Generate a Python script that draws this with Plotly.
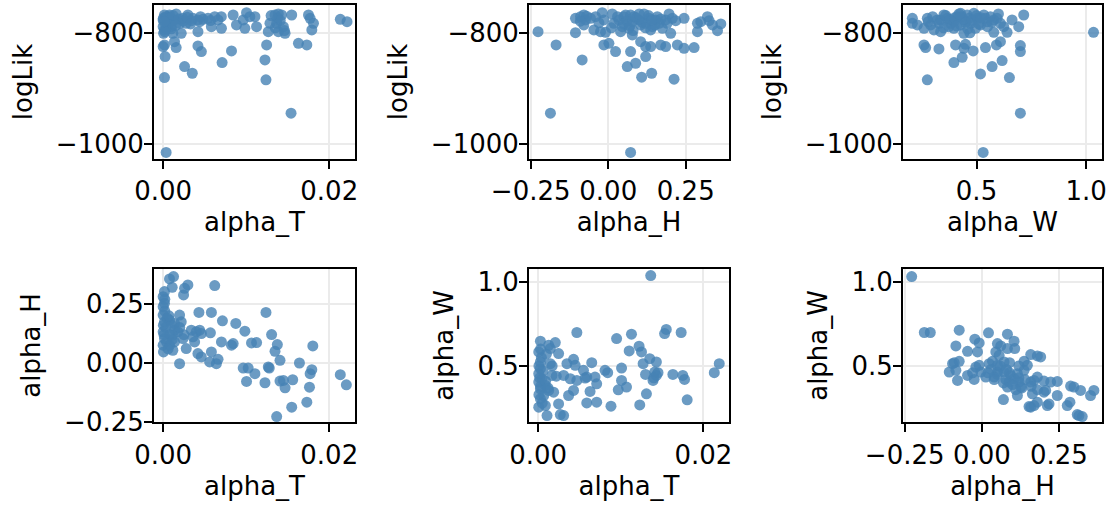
import plotly.graph_objects as go

# ---------------- data ----------------
# Panel 1: alpha_T vs logLik
p1_alpha_T = [0.00016, 0.00056, 0.00157, 0.00298, 0.0, 0.00077, 0.00137, 0.00198, 0.00238, 0.00359,
              0.00419, 0.00440, 0.00540, 0.00621, 0.00661, 0.00581, 0.00702, 0.00843, 0.00883, 0.01004,
              0.00964, 0.01044, 0.01105, 0.00984, 0.01125, 0.01286, 0.01347, 0.01387, 0.01427, 0.01367,
              0.01448, 0.01266, 0.01387, 0.01468, 0.01548, 0.01750, 0.01770, 0.01810, 0.01790, 0.02133,
              0.02214, 0.0, 0.00036, 0.00005, 0.00117, 0.00218, 0.00419, 0.00016, 0.0, 0.00137,
              0.00157, 0.00419, 0.00460, 0.00024, 0.00823, 0.01246, 0.01629, 0.01730, 0.00258, 0.00351,
              0.00710, 0.01226, 0.01238, 0.00016, 0.01540, 0.00036, 0.00002, 0.00097, 0.00278, 0.00339,
              0.00077, 0.00480, 0.00016,
              0.0003, 0.0008, 0.0012, 0.0019, 0.0024, 0.0006, 0.0010, 0.0002, 0.0015, 0.0029,
              0.0033, 0.0001, 0.0045, 0.0057, 0.0070, 0.0138, 0.0141, 0.0135, 0.0130, 0.0146]
p1_logLik = [-766.9, -769.9, -765.1, -766.9, -775.9, -778.9, -775.9, -781.9, -772.9, -772.9,
             -775.9, -778.9, -772.9, -769.9, -775.9, -788.0, -791.0, -766.9, -784.9, -762.7,
             -775.9, -769.9, -769.9, -791.0, -788.0, -781.9, -766.9, -765.1, -766.9, -781.9,
             -788.0, -797.0, -797.0, -800.0, -766.9, -766.9, -772.9, -781.9, -794.0, -774.7,
             -778.9, -788.0, -791.0, -800.0, -800.0, -800.0, -797.0, -821.1, -824.1, -815.1,
             -825.9, -822.9, -833.1, -842.2, -831.9, -821.1, -818.1, -821.1, -860.2, -872.3,
             -853.0, -848.2, -884.3, -880.1, -944.6, -1015.7, -772.9, -788.0, -781.9, -777.1,
             -766.9, -774.7, -794.0,
             -770.0, -772.0, -768.0, -774.0, -778.0, -784.0, -792.0, -797.0, -786.0, -771.0,
             -783.0, -779.0, -770.0, -777.0, -770.0, -772.0, -777.0, -790.0, -768.0, -795.0]

# Panel 2: alpha_H vs logLik
p2_alpha_H = [-0.2263, -0.1681, -0.1056, -0.0841, -0.1864, 0.0722, -0.1056, -0.0894, -0.0787, -0.0733,
              -0.0787, -0.0571, -0.0409, -0.0194, -0.0140, 0.0129, 0.0183, -0.0248, -0.0086, 0.0399,
              0.0453, 0.0506, 0.0560, 0.0722, 0.0776, 0.0830, 0.0776, 0.0991, 0.1153, 0.1207,
              0.1315, 0.1422, 0.1530, 0.1584, 0.1638, 0.1746, 0.1853, 0.1961, 0.2069, 0.2177,
              0.2015, 0.2446, 0.2877, 0.2985, 0.3200, 0.3254, 0.3362, 0.3632, 0.2877, 0.3524,
              0.1045, 0.1207, 0.1369, 0.1692, 0.1853, 0.2231, 0.2446, 0.2769, -0.0140, 0.0022,
              0.0237, 0.0722, 0.1207, 0.0884, 0.0614, 0.1078, 0.1401, 0.2123, 0.0345, 0.1045,
              0.1369, 0.0668, -0.0463,
              0.03, 0.06, 0.09, 0.11, 0.13, 0.15, 0.17, 0.12, 0.08, 0.05,
              -0.07, -0.09, 0.01, 0.19, 0.14, 0.10, 0.07, -0.03]
p2_logLik = [-797.0, -821.1, -798.8, -848.2, -944.6, -1015.7, -772.9, -769.9, -766.9, -775.9,
             -784.9, -772.9, -769.9, -762.7, -775.9, -765.1, -781.9, -797.0, -798.2, -797.0,
             -788.0, -769.9, -766.9, -766.9, -778.9, -769.9, -803.0, -775.9, -765.1, -781.9,
             -772.9, -788.0, -775.9, -769.9, -781.9, -791.0, -775.9, -765.1, -772.9, -777.1,
             -800.0, -772.9, -781.9, -778.9, -769.9, -777.1, -784.9, -783.1, -797.0, -795.2,
             -815.1, -824.1, -824.1, -821.1, -824.1, -821.1, -827.1, -825.9, -821.1, -818.1,
             -833.1, -833.1, -842.2, -854.2, -860.2, -879.5, -872.3, -883.1, -775.9, -784.9,
             -794.0, -791.0, -794.0,
             -770.0, -778.0, -772.0, -780.0, -768.0, -785.0, -774.0, -790.0, -795.0, -783.0,
             -769.0, -778.0, -790.0, -782.0, -776.0, -765.0, -786.0, -781.0]

# Panel 3: alpha_W vs logLik
p3_alpha_W = [0.2076, 0.2076, 0.2758, 0.2606, 0.2909, 0.3212, 0.3515, 0.3667, 0.3818, 0.3970,
              0.4121, 0.4273, 0.4424, 0.4576, 0.4727, 0.4879, 0.5030, 0.5182, 0.5333, 0.5485,
              0.5636, 0.5788, 0.5939, 0.6091, 0.6242, 0.6621, 0.6924, 0.7152, 0.6394, 0.5788,
              0.4424, 0.3364, 1.0333, 0.2606, 0.2682, 0.3288, 0.4045, 0.4500, 0.4424, 0.4848,
              0.5409, 0.5909, 0.6091, 0.7000, 0.7000, 0.3970, 0.4348, 0.6167, 0.5712, 0.5182,
              0.6500, 0.2758, 0.7000, 0.5303, 0.3364, 0.3970, 0.4652, 0.3742, 0.4955, 0.4273,
              0.5409, 0.3061, 0.2303,
              0.30, 0.33, 0.36, 0.38, 0.40, 0.41, 0.43, 0.45, 0.46, 0.48,
              0.50, 0.51, 0.52, 0.55, 0.57, 0.35, 0.28, 0.42, 0.47, 0.60]
p3_logLik = [-772.9, -781.9, -772.9, -791.0, -784.9, -775.9, -766.9, -772.9, -781.9, -791.0,
             -769.9, -763.9, -775.9, -766.9, -781.9, -763.9, -772.9, -784.9, -766.9, -778.9,
             -769.9, -775.9, -772.9, -781.9, -788.0, -775.9, -788.0, -766.9, -798.2, -798.2,
             -800.0, -797.0, -798.2, -821.1, -825.9, -828.3, -821.1, -819.9, -827.1, -831.9,
             -825.9, -821.1, -815.1, -822.3, -833.1, -853.0, -843.4, -849.4, -860.2, -873.5,
             -880.1, -884.3, -944.6, -1015.7, -775.9, -778.9, -772.9, -788.0, -791.0, -784.9,
             -772.9, -794.0, -784.9,
             -770.0, -782.0, -768.0, -775.0, -772.0, -787.0, -770.0, -780.0, -792.0, -776.0,
             -768.0, -783.0, -772.0, -788.0, -780.0, -790.0, -779.0, -765.0, -799.0, -765.0]

# Panel 4: alpha_T vs alpha_H
p4_alpha_T = [0.00077, 0.00125, 0.00109, 0.00258, 0.00298, 0.00246, 0.00621, 0.00016, 0.0, 0.00016,
              0.0, 0.0, 0.00016, 0.00003, 0.0, 0.00016, 0.0, 0.00004, 0.00077, 0.00137,
              0.00198, 0.00218, 0.00177, 0.00117, 0.00137, 0.00117, 0.00077, 0.00198, 0.00278, 0.00238,
              0.00339, 0.00399, 0.00440, 0.00460, 0.00359, 0.00379, 0.00431, 0.00581, 0.00714, 0.00875,
              0.00984, 0.00569, 0.00702, 0.00823, 0.00843, 0.01064, 0.01125, 0.01238, 0.01306, 0.01375,
              0.01347, 0.01407, 0.01641, 0.01802, 0.00419, 0.00460, 0.00581, 0.00560, 0.00661, 0.00641,
              0.00964, 0.01024, 0.01105, 0.01004, 0.01226, 0.01266, 0.01278, 0.01407, 0.01448, 0.01468,
              0.01560, 0.01762, 0.01770, 0.01790, 0.02133, 0.02206, 0.01730, 0.01548, 0.01367,
              0.0002, 0.0005, 0.0003, 0.0008, 0.0004, 0.0010, 0.0006, 0.0014, 0.0002, 0.0011,
              0.0020, 0.0025, 0.0001, 0.0007]
p4_alpha_H = [0.3565, 0.3665, 0.3210, 0.3168, 0.3310, 0.2884, 0.3281, 0.3026, 0.2813, 0.2528,
              0.2386, 0.2031, 0.1747, 0.1605, 0.1321, 0.1037, 0.0753, 0.0469, 0.1818, 0.1676,
              0.2031, 0.1747, 0.1321, 0.1179, 0.0895, 0.0540, 0.0753, -0.0028, 0.0611, 0.1037,
              0.1392, 0.1321, 0.1392, 0.1250, 0.1108, 0.0895, 0.2145, 0.2145, 0.1790, 0.1676,
              0.1349, 0.1278, 0.0895, 0.0753, 0.0824, 0.0852, 0.0867, 0.2145, 0.1207, 0.0781,
              0.0497, 0.0114, 0.0, 0.0724, 0.0398, 0.0256, 0.0469, 0.0043, 0.0156, -0.0028,
              -0.0213, -0.0213, -0.0455, -0.0781, -0.0838, -0.0170, -0.0213, -0.0767, -0.0739, -0.1051,
              -0.0710, -0.1023, -0.0455, -0.0284, -0.0497, -0.0923, -0.1662, -0.1875, -0.2273,
              0.22, 0.19, 0.15, 0.12, 0.09, 0.16, 0.06, 0.14, 0.27, 0.10,
              0.15, 0.12, 0.12, 0.20]

# Panel 5: alpha_T vs alpha_W
p5_alpha_T = [0.01363, 0.00469, 0.00950, 0.01130, 0.01551, 0.01531, 0.01731, 0.00028, 0.00128, 0.00208,
              0.00148, 0.00248, 0.00008, 0.00028, 0.00148, 0.00008, 0.00008, 0.00028, 0.00028, 0.00008,
              0.00088, 0.00108, 0.00248, 0.00269, 0.00309, 0.00188, 0.00128, 0.00168, 0.00309, 0.00369,
              0.00429, 0.00349, 0.00429, 0.00449, 0.00389, 0.00469, 0.00549, 0.00589, 0.00569, 0.00649,
              0.00689, 0.00709, 0.00629, 0.00589, 0.00709, 0.00810, 0.00842, 0.00882, 0.01010, 0.01010,
              0.00970, 0.01070, 0.01102, 0.01222, 0.01251, 0.01271, 0.01311, 0.01230, 0.01351, 0.01431,
              0.01411, 0.01391, 0.01431, 0.01451, 0.01631, 0.01751, 0.01772, 0.01804, 0.02132, 0.02192,
              0.00028, 0.00048, 0.00088, 0.00068,
              0.0001, 0.0004, 0.0002, 0.0006, 0.0003, 0.0009, 0.0001, 0.0005, 0.0012, 0.0017,
              0.0022, 0.0003, 0.0010, 0.0130, 0.0140]
p5_alpha_W = [1.0357, 0.6984, 0.6627, 0.6885, 0.7163, 0.6924, 0.6984, 0.6468, 0.6230, 0.6389,
              0.6032, 0.5734, 0.5833, 0.5238, 0.5139, 0.4544, 0.4048, 0.3651, 0.3056, 0.2560,
              0.2659, 0.2063, 0.2758, 0.2123, 0.2063, 0.3452, 0.3552, 0.4444, 0.4444, 0.3254,
              0.3552, 0.5139, 0.5397, 0.5040, 0.4246, 0.4147, 0.4742, 0.4345, 0.4286, 0.5198,
              0.4345, 0.3948, 0.3492, 0.2817, 0.2857, 0.4742, 0.4603, 0.2619, 0.4881, 0.4147,
              0.3591, 0.3750, 0.5893, 0.6171, 0.5833, 0.5139, 0.3353, 0.2698, 0.5437, 0.5238,
              0.4643, 0.4147, 0.4444, 0.4603, 0.4504, 0.4444, 0.4206, 0.2996, 0.4603, 0.5139,
              0.4841, 0.4246, 0.3849, 0.3254,
              0.50, 0.55, 0.43, 0.47, 0.38, 0.41, 0.33, 0.28, 0.37, 0.50,
              0.44, 0.60, 0.57, 0.45, 0.43]

# Panel 6: alpha_H vs alpha_W
p6_alpha_H = [-0.2274, -0.1864, -0.1670, -0.0733, 0.0216, 0.0830, -0.0841, -0.0463, -0.0226, -0.0086,
              -0.0140, 0.1045, 0.1067, 0.0506, 0.0614, 0.0830, 0.0453, 0.0560, 0.0345, 0.0237,
              -0.0948, -0.0894, -0.0733, -0.1056, -0.0841, -0.0787, -0.0463, -0.0248, -0.0194, -0.0086,
              -0.0032, 0.0129, 0.0399, 0.0506, 0.0506, 0.0722, 0.0722, 0.0776, 0.0830, 0.0884,
              0.0938, 0.1045, 0.1153, 0.1207, 0.1261, 0.1153, 0.1369, 0.1476, 0.1369, 0.1584,
              0.1800, 0.1907, 0.1584, 0.1638, 0.1692, 0.1800, 0.2015, 0.2069, 0.2015, 0.2231,
              0.2446, 0.2446, 0.2177, 0.2123, 0.1800, 0.1692, 0.1584, 0.1530, 0.0700, 0.2877,
              0.2985, 0.3200, 0.3524, 0.3632, 0.2769, 0.2856, 0.3093, 0.3254, 0.3147,
              0.05, 0.07, 0.09, 0.10, 0.12, 0.13, 0.03, 0.06, 0.08, 0.11,
              0.14, 0.16, 0.02, 0.04, -0.03, 0.09, 0.12, 0.18]
p6_alpha_W = [1.0298, 0.6984, 0.6984, 0.7123, 0.6964, 0.6885, 0.6190, 0.5873, 0.6587, 0.6369,
              0.5833, 0.6468, 0.6032, 0.6329, 0.6190, 0.6032, 0.5833, 0.5635, 0.5278, 0.5139,
              0.5139, 0.5198, 0.5278, 0.4643, 0.4742, 0.4147, 0.4444, 0.4206, 0.4940, 0.5040,
              0.4643, 0.4345, 0.4345, 0.4643, 0.5040, 0.5238, 0.4643, 0.4206, 0.3750, 0.4048,
              0.4444, 0.4246, 0.4544, 0.4048, 0.3750, 0.3254, 0.5278, 0.5040, 0.4742, 0.5675,
              0.5595, 0.5536, 0.4048, 0.3353, 0.4147, 0.4345, 0.4107, 0.3552, 0.3452, 0.4048,
              0.4087, 0.3254, 0.2758, 0.2659, 0.2857, 0.2659, 0.2560, 0.2599, 0.3016, 0.3810,
              0.3750, 0.3552, 0.3254, 0.3552, 0.2659, 0.2857, 0.2123, 0.2004, 0.2063,
              0.45, 0.40, 0.46, 0.39, 0.43, 0.37, 0.48, 0.50, 0.48, 0.36,
              0.42, 0.38, 0.46, 0.42, 0.46, 0.52, 0.50, 0.36]

# tick labels
ticks_alpha_T = [0.0, 0.02]
labels_alpha_T = ["0.00", "0.02"]
ticks_alpha_H = [-0.25, 0.0, 0.25]
labels_alpha_H = ["\u22120.25", "0.00", "0.25"]
ticks_alpha_W = [0.5, 1.0]
labels_alpha_W = ["0.5", "1.0"]
ticks_logLik = [-1000, -800]
labels_logLik = ["\u22121000", "\u2212800"]

# ---------------- figure ----------------
W, H = 1114, 512
FONT = "DejaVu Sans"
FS = 26
MARKER = dict(size=11, color="rgba(70,130,180,0.8)", line=dict(width=0))

panels = [
    (p1_alpha_T, p1_logLik, "alpha_T", "logLik"),
    (p2_alpha_H, p2_logLik, "alpha_H", "logLik"),
    (p3_alpha_W, p3_logLik, "alpha_W", "logLik"),
    (p4_alpha_T, p4_alpha_H, "alpha_T", "alpha_H"),
    (p5_alpha_T, p5_alpha_W, "alpha_T", "alpha_W"),
    (p6_alpha_H, p6_alpha_W, "alpha_H", "alpha_W"),
]

ranges = {
    "alpha_T": [-0.0011, 0.0231],
    "alpha_H": [-0.2555, 0.3895],
    "alpha_W": [0.165, 1.072],
    "logLik": [-1027.5, -748.8],
}
ranges_y = dict(ranges)
ranges_y["alpha_H"] = [-0.2514, 0.4006]
ranges_y["alpha_W"] = [0.1667, 1.0774]

tickinfo = {
    "alpha_T": (ticks_alpha_T, labels_alpha_T),
    "alpha_H": (ticks_alpha_H, labels_alpha_H),
    "alpha_W": (ticks_alpha_W, labels_alpha_W),
    "logLik": (ticks_logLik, labels_logLik),
}

xdoms_px = [(154, 355), (529, 729), (903, 1102)]
ydoms_px = [(5, 159), (268.5, 422.3)]

fig = go.Figure()
layout = dict(
    width=W, height=H,
    margin=dict(l=0, r=0, t=0, b=0),
    paper_bgcolor="white", plot_bgcolor="white",
    showlegend=False,
    font=dict(family=FONT, size=FS, color="black"),
)

for i, (xs, ys, xn, yn) in enumerate(panels):
    k = "" if i == 0 else str(i + 1)
    row, col = divmod(i, 3)
    fig.add_trace(go.Scatter(x=xs, y=ys, mode="markers", marker=MARKER,
                             xaxis="x" + k, yaxis="y" + k, hoverinfo="skip"))
    x0, x1 = xdoms_px[col]
    yt, yb = ydoms_px[row]
    common = dict(
        showline=True, linecolor="black", linewidth=2, mirror=True,
        ticks="outside", ticklen=8, tickwidth=2, tickcolor="black",
        showgrid=True, gridcolor="#ebebeb", gridwidth=2,
        zeroline=False, automargin=False,
        tickfont=dict(family=FONT, size=FS, color="black"),
    )
    tv, tt = tickinfo[xn]
    layout["xaxis" + k] = dict(
        common, domain=[x0 / W, x1 / W], anchor="y" + k,
        range=ranges[xn], tickmode="array", tickvals=tv, ticktext=tt,
        title=dict(text=xn, font=dict(family=FONT, size=FS, color="black"), standoff=8),
    )
    tv, tt = tickinfo[yn]
    layout["yaxis" + k] = dict(
        common, domain=[1 - yb / H, 1 - yt / H], anchor="x" + k,
        range=ranges_y[yn], tickmode="array", tickvals=tv, ticktext=tt,
        ticklabelstandoff=-5,
        title=dict(text=yn, font=dict(family=FONT, size=FS, color="black"), standoff=16),
    )

fig.update_layout(**layout)
fig.write_html("out.html",
               config={"displayModeBar": False},
               post_script="document.body.style.margin='0';document.body.style.overflow='hidden';")
